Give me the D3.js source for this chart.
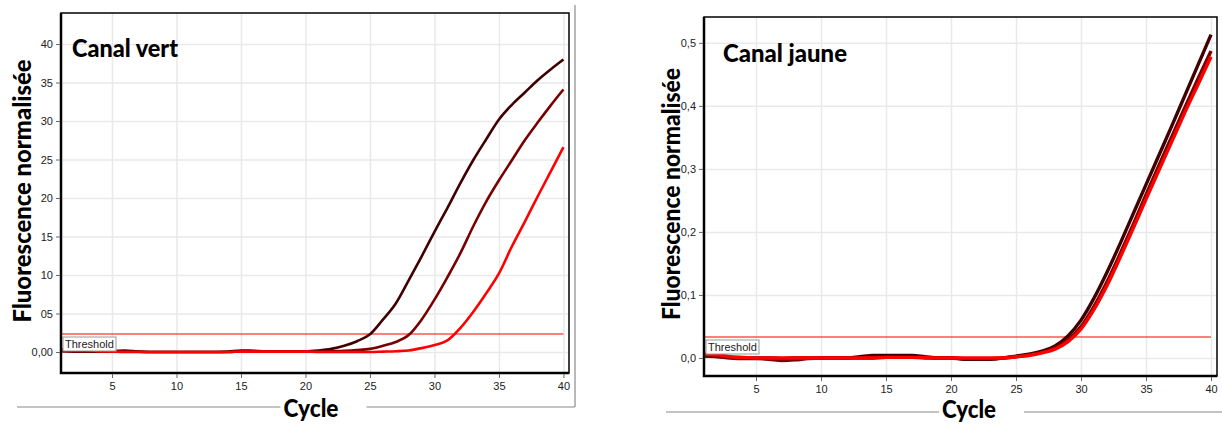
<!DOCTYPE html>
<html>
<head>
<meta charset="utf-8">
<script src="https://cdn.jsdelivr.net/npm/d3@7/dist/d3.min.js"></script>
<style>
  body { margin: 0; background: #fff; }
  svg { display: block; }
  .tick text { font-family: "Liberation Sans", Arial, sans-serif; font-size: 11px; fill: #222; }
  .big { font-family: Lato, "Open Sans", sans-serif; font-weight: 900; fill: #000; }
</style>
</head>
<body>
<svg id="chart" width="1222" height="425"></svg>
<script>
const cycles = d3.range(1, 41)
const threshold = ['Threshold']

// Canal vert
const vertTicks = [0, 5, 10, 15, 20, 25, 30, 35, 40]
const vertTickLabels = ['0,00', '05', '10', '15', '20', '25', '30', '35', '40']
const vertThreshold = 2.3
const vertDark = [0.3, 0.3, 0.2, 0.1, 0.1, 0.2, 0.05, 0, 0, 0, 0, 0, 0, 0.05, 0.2, 0.15, 0.1, 0.1, 0.1, 0.1,
  0.2, 0.4, 0.8, 1.4, 2.3, 4.2, 6.3, 9.3, 12.4, 15.6, 18.7, 21.9, 24.9, 27.6, 30.2, 32.1, 33.7, 35.3, 36.7, 38.0]
const vertMid = [0.1, 0.05, 0.05, 0.05, 0.05, 0.1, 0.05, 0, 0, 0, 0, 0, 0, 0, 0.05, 0.05, 0.05, 0.05, 0.05, 0.05,
  0.05, 0.1, 0.15, 0.25, 0.4, 0.8, 1.3, 2.2, 4.2, 6.8, 9.7, 12.8, 16.3, 19.5, 22.3, 24.9, 27.5, 29.8, 32.0, 34.1]
const vertRed = [0.3, 0.3, 0.3, 0.1, 0.05, 0, 0, 0, 0, 0, 0, 0, 0, 0, 0.05, 0.05, 0.05, 0.05, 0.05, 0.05,
  0, 0, 0, 0, 0, 0.05, 0.1, 0.2, 0.5, 0.9, 1.5, 3.1, 5.2, 7.6, 10.2, 13.7, 16.9, 20.2, 23.4, 26.6]

// Canal jaune
const jauneTicks = [0, 0.1, 0.2, 0.3, 0.4, 0.5]
const jauneTickLabels = ['0,0', '0,1', '0,2', '0,3', '0,4', '0,5']
const jauneThreshold = 0.033
const jauneDark = [0.004, 0.003, 0.001, 0, 0, 0, -0.001, 0, 0, 0, 0, 0, 0.002, 0.004, 0.004, 0.004, 0.004, 0.002, 0, 0,
  -0.002, -0.002, -0.002, 0, 0.003, 0.006, 0.011, 0.019, 0.035, 0.06, 0.095, 0.136, 0.181, 0.228, 0.275, 0.322, 0.369, 0.417, 0.465, 0.513]
const jauneMid = [0.003, 0.002, 0, -0.001, -0.001, -0.002, -0.004, -0.003, -0.001, 0, 0, 0, 0, 0, 0.001, 0.001, 0.001, 0, 0, 0,
  -0.001, -0.001, -0.001, 0, 0.002, 0.005, 0.009, 0.016, 0.029, 0.05, 0.082, 0.121, 0.165, 0.211, 0.259, 0.306, 0.352, 0.398, 0.443, 0.487]
const jauneRed = [0.006, 0.005, 0.002, 0.001, 0, 0, 0, 0, 0, 0, 0, 0, 0, 0, 0.001, 0.001, 0.001, 0.001, 0, 0,
  0, 0, 0, 0, 0.002, 0.004, 0.008, 0.014, 0.026, 0.046, 0.077, 0.115, 0.159, 0.205, 0.252, 0.298, 0.344, 0.39, 0.434, 0.478]

const seriesColors = ['#400000', '#7a0000', '#ff0000']
const xTicks = [5, 10, 15, 20, 25, 30, 35, 40]

const svg = d3.select('#chart')

drawChart(svg, {
  left: 61, right: 569, top: 13, bottom: 373,
  xDomain: [1.047, 40.43], yDomain: [-2.73, 44.03],
  yTicks: vertTicks, yTickLabels: vertTickLabels,
  series: [vertDark, vertMid, vertRed], lineWidth: 2.6,
  thresholdValue: vertThreshold,
  title: 'Canal vert', titleX: 72, titleY: 57, titleW: 106,
  yLabelX: 31, yLabelY: 191, yLabelW: 263,
  cycleX: 311, cycleY: 417, cycleW: 55,
  ruleY: 407, ruleX0: 17, ruleX1: 575, ruleTop: 5
})

drawChart(svg, {
  left: 704, right: 1217, top: 17, bottom: 376,
  xDomain: [1.0, 40.46], yDomain: [-0.0286, 0.541],
  yTicks: jauneTicks, yTickLabels: jauneTickLabels,
  series: [jauneDark, jauneMid, jauneRed], lineWidth: 3.4,
  thresholdValue: jauneThreshold,
  title: 'Canal jaune', titleX: 723, titleY: 62, titleW: 124,
  yLabelX: 680, yLabelY: 194, yLabelW: 252,
  cycleX: 969, cycleY: 418, cycleW: 54,
  ruleY: 412, ruleX0: 666, ruleX1: 1222, ruleTop: null
})

function drawChart(svg, o) {
  const x = d3.scaleLinear().domain(o.xDomain).range([o.left, o.right])
  const y = d3.scaleLinear().domain(o.yDomain).range([o.bottom, o.top])
  const w = o.right - o.left
  const h = o.bottom - o.top
  const g = svg.append('g')

  // grid
  g.append('g')
    .attr('transform', `translate(0,${o.bottom})`)
    .call(d3.axisBottom(x).tickValues(xTicks).tickSize(-h).tickFormat(''))
    .call(a => a.select('.domain').remove())
    .selectAll('line').attr('stroke', '#e9e9e9').attr('stroke-width', 1.5)
  g.append('g')
    .attr('transform', `translate(${o.left},0)`)
    .call(d3.axisLeft(y).tickValues(o.yTicks).tickSize(-w).tickFormat(''))
    .call(a => a.select('.domain').remove())
    .selectAll('line').attr('stroke', '#e9e9e9').attr('stroke-width', 1.5)

  // threshold
  const ty = Math.round(y(o.thresholdValue))
  g.append('line')
    .attr('x1', o.left).attr('x2', x(40))
    .attr('y1', ty).attr('y2', ty)
    .attr('stroke', '#ff0000').attr('stroke-width', 1.2)

  // curves
  const line = d3.line()
    .x((d, i) => x(cycles[i]))
    .y(d => y(d))
    .curve(d3.curveMonotoneX)
  o.series.forEach((s, i) => {
    g.append('path')
      .datum(s)
      .attr('d', line)
      .attr('fill', 'none')
      .attr('stroke', seriesColors[i])
      .attr('stroke-width', o.lineWidth)
      .attr('stroke-linejoin', 'round')
  })

  const lab = g.append('g').attr('transform', `translate(${o.left + 2},${ty + 3})`)
  lab.selectAll('rect').data(threshold).join('rect')
    .attr('width', 53).attr('height', 14)
    .attr('fill', '#fff').attr('stroke', '#999').attr('stroke-width', 1)
  lab.selectAll('text').data(threshold).join('text')
    .attr('x', 2).attr('y', 11)
    .attr('font-family', '"Liberation Sans", Arial, sans-serif')
    .attr('font-size', 11).attr('fill', '#222')
    .text(d => d)

  // frame
  g.append('rect')
    .attr('x', o.left).attr('y', o.top).attr('width', w).attr('height', h)
    .attr('fill', 'none').attr('stroke', '#000').attr('stroke-width', 1.5)
  g.append('path')
    .attr('d', `M${o.left},${o.top}V${o.bottom}H${o.right}`)
    .attr('fill', 'none').attr('stroke', '#000').attr('stroke-width', 2.5)

  // axes
  g.append('g')
    .attr('transform', `translate(${o.left - 1},0)`)
    .call(d3.axisLeft(y).tickValues(o.yTicks).tickSize(4).tickPadding(3)
      .tickFormat((d, i) => o.yTickLabels[i]))
    .call(a => a.select('.domain').remove())
    .call(a => a.selectAll('line').attr('stroke', '#666'))
  g.append('g')
    .attr('transform', `translate(0,${o.bottom + 1})`)
    .call(d3.axisBottom(x).tickValues(xTicks).tickSize(4).tickPadding(4))
    .call(a => a.select('.domain').remove())
    .call(a => a.selectAll('line').attr('stroke', '#666'))

  // texts
  g.append('text').attr('class', 'big')
    .attr('x', o.titleX).attr('y', o.titleY)
    .attr('font-size', 25)
    .attr('textLength', o.titleW).attr('lengthAdjust', 'spacingAndGlyphs')
    .text(o.title)

  g.append('text').attr('class', 'big')
    .attr('transform', `translate(${o.yLabelX},${o.yLabelY}) rotate(-90)`)
    .attr('text-anchor', 'middle')
    .attr('font-size', 24)
    .attr('textLength', o.yLabelW).attr('lengthAdjust', 'spacingAndGlyphs')
    .text('Fluorescence normalisée')

  g.append('text').attr('class', 'big')
    .attr('x', o.cycleX - o.cycleW / 2).attr('y', o.cycleY)
    .attr('font-size', 24)
    .attr('textLength', o.cycleW).attr('lengthAdjust', 'spacingAndGlyphs')
    .text('Cycle')

  const cx0 = o.cycleX - o.cycleW / 2 - 3
  const cx1 = o.cycleX + o.cycleW / 2 + 28
  const rule = g.append('g').attr('stroke', '#8a8a8a').attr('stroke-width', 1.2)
  rule.append('line').attr('x1', o.ruleX0).attr('x2', cx0).attr('y1', o.ruleY).attr('y2', o.ruleY)
  rule.append('line').attr('x1', cx1).attr('x2', o.ruleX1).attr('y1', o.ruleY).attr('y2', o.ruleY)
  if (o.ruleTop !== null) {
    rule.append('line').attr('x1', o.ruleX1).attr('x2', o.ruleX1).attr('y1', o.ruleTop).attr('y2', o.ruleY)
  }
}
</script>
</body>
</html>
